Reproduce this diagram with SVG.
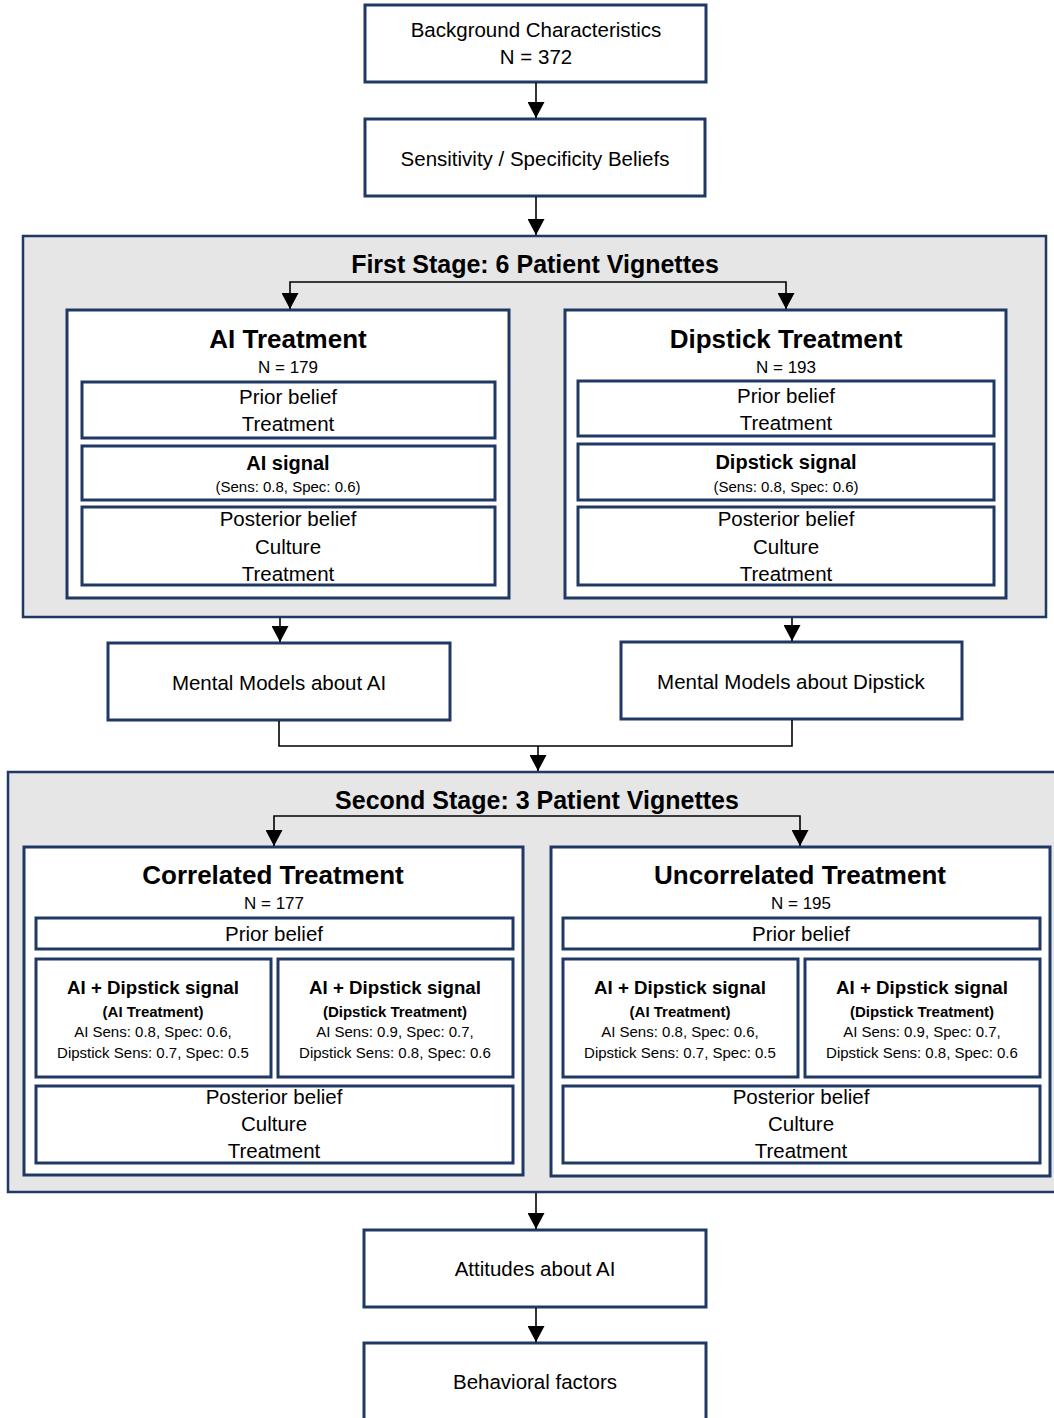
<svg xmlns="http://www.w3.org/2000/svg" width="1054" height="1418" viewBox="0 0 1054 1418">
<defs>
<marker id="ah" markerUnits="userSpaceOnUse" markerWidth="16" markerHeight="17" viewBox="0 0 16 17" refX="16" refY="8.5" orient="auto">
<path d="M0,0 L16,8.5 L0,17 Z" fill="#000"/>
</marker>
<style>
.box{fill:#fff;stroke:#1F3864;stroke-width:3}
.panel{fill:#E6E6E6;stroke:#1F3864;stroke-width:2.5}
.cn{fill:none;stroke:#000;stroke-width:1.6}
.ar{marker-end:url(#ah)}
text{font-family:"Liberation Sans",Arial,sans-serif;fill:#000;text-anchor:middle}
.t{font-size:20.5px}
.h{font-size:25px;font-weight:bold}
.h2{font-size:26px;font-weight:bold}
.n{font-size:17px}
.s{font-size:15px}
.b{font-size:20px;font-weight:bold}
.sb{font-size:18.7px;font-weight:bold}
.st{font-size:15px;font-weight:bold}
</style>
</defs>

<g id="background">
<rect class="box" x="365" y="5" width="341" height="77"/>
<text class="t" x="536" y="37">Background Characteristics</text>
<text class="t" x="536" y="64">N = 372</text>
</g>
<g id="sensitivity">
<rect class="box" x="365" y="119" width="340" height="77"/>
<text class="t" x="535" y="166">Sensitivity / Specificity Beliefs</text>
</g>

<g id="first-stage">
<rect class="panel" x="23" y="236" width="1023" height="381"/>
<text class="h" x="535" y="273">First Stage: 6 Patient Vignettes</text>
</g>

<g id="ai-treatment">
<rect class="box" x="67" y="310" width="442" height="288"/>
<text class="h2" x="288" y="348">AI Treatment</text>
<text class="n" x="288" y="373">N = 179</text>
<rect class="box" x="82" y="382" width="413" height="56"/>
<text class="t" x="288" y="404">Prior belief</text>
<text class="t" x="288" y="431">Treatment</text>
<rect class="box" x="82" y="446" width="413" height="54"/>
<text class="b" x="288" y="470">AI signal</text>
<text class="s" x="288" y="492">(Sens: 0.8, Spec: 0.6)</text>
<rect class="box" x="82" y="507" width="413" height="78"/>
<text class="t" x="288" y="526">Posterior belief</text>
<text class="t" x="288" y="554">Culture</text>
<text class="t" x="288" y="581">Treatment</text>
</g>

<g id="dipstick-treatment">
<rect class="box" x="565" y="310" width="441" height="288"/>
<text class="h2" x="786" y="348">Dipstick Treatment</text>
<text class="n" x="786" y="373">N = 193</text>
<rect class="box" x="578" y="381" width="416" height="55"/>
<text class="t" x="786" y="403">Prior belief</text>
<text class="t" x="786" y="430">Treatment</text>
<rect class="box" x="578" y="444" width="416" height="56"/>
<text class="b" x="786" y="469">Dipstick signal</text>
<text class="s" x="786" y="492">(Sens: 0.8, Spec: 0.6)</text>
<rect class="box" x="578" y="507" width="416" height="78"/>
<text class="t" x="786" y="526">Posterior belief</text>
<text class="t" x="786" y="554">Culture</text>
<text class="t" x="786" y="581">Treatment</text>
</g>

<g id="mental-ai">
<rect class="box" x="108" y="643" width="342" height="77"/>
<text class="t" x="279" y="690">Mental Models about AI</text>
</g>
<g id="mental-dipstick">
<rect class="box" x="621" y="642" width="341" height="77"/>
<text class="t" x="791" y="689">Mental Models about Dipstick</text>
</g>

<g id="second-stage">
<rect class="panel" x="8" y="772" width="1060" height="420"/>
<text class="h" x="537" y="809">Second Stage: 3 Patient Vignettes</text>
</g>

<g id="correlated-treatment">
<rect class="box" x="24" y="847" width="499" height="328"/>
<text class="h2" x="273" y="884">Correlated Treatment</text>
<text class="n" x="274" y="909">N = 177</text>
<rect class="box" x="36" y="918" width="477" height="31"/>
<text class="t" x="274" y="941">Prior belief</text>
<rect class="box" x="36" y="959" width="235" height="118"/>
<text class="sb" x="153" y="994">AI + Dipstick signal</text>
<text class="st" x="153" y="1017">(AI Treatment)</text>
<text class="s" x="153" y="1037">AI Sens: 0.8, Spec: 0.6,</text>
<text class="s" x="153" y="1058">Dipstick Sens: 0.7, Spec: 0.5</text>
<rect class="box" x="278" y="959" width="235" height="118"/>
<text class="sb" x="395" y="994">AI + Dipstick signal</text>
<text class="st" x="395" y="1017">(Dipstick Treatment)</text>
<text class="s" x="395" y="1037">AI Sens: 0.9, Spec: 0.7,</text>
<text class="s" x="395" y="1058">Dipstick Sens: 0.8, Spec: 0.6</text>
<rect class="box" x="36" y="1086" width="477" height="77"/>
<text class="t" x="274" y="1104">Posterior belief</text>
<text class="t" x="274" y="1131">Culture</text>
<text class="t" x="274" y="1158">Treatment</text>
</g>

<g id="uncorrelated-treatment">
<rect class="box" x="551" y="847" width="499" height="329"/>
<text class="h2" x="800" y="884">Uncorrelated Treatment</text>
<text class="n" x="801" y="909">N = 195</text>
<rect class="box" x="563" y="918" width="477" height="31"/>
<text class="t" x="801" y="941">Prior belief</text>
<rect class="box" x="563" y="959" width="235" height="118"/>
<text class="sb" x="680" y="994">AI + Dipstick signal</text>
<text class="st" x="680" y="1017">(AI Treatment)</text>
<text class="s" x="680" y="1037">AI Sens: 0.8, Spec: 0.6,</text>
<text class="s" x="680" y="1058">Dipstick Sens: 0.7, Spec: 0.5</text>
<rect class="box" x="805" y="959" width="235" height="118"/>
<text class="sb" x="922" y="994">AI + Dipstick signal</text>
<text class="st" x="922" y="1017">(Dipstick Treatment)</text>
<text class="s" x="922" y="1037">AI Sens: 0.9, Spec: 0.7,</text>
<text class="s" x="922" y="1058">Dipstick Sens: 0.8, Spec: 0.6</text>
<rect class="box" x="563" y="1086" width="477" height="77"/>
<text class="t" x="801" y="1104">Posterior belief</text>
<text class="t" x="801" y="1131">Culture</text>
<text class="t" x="801" y="1158">Treatment</text>
</g>

<g id="attitudes">
<rect class="box" x="364" y="1230" width="342" height="77"/>
<text class="t" x="535" y="1276">Attitudes about AI</text>
</g>
<g id="behavioral">
<rect class="box" x="364" y="1343" width="342" height="100"/>
<text class="t" x="535" y="1389">Behavioral factors</text>
</g>

<g id="connectors">
<line class="cn ar" x1="536" y1="83" x2="536" y2="118"/>
<line class="cn ar" x1="536" y1="197" x2="536" y2="235"/>
<polyline class="cn ar" points="536,282 290,282 290,309"/>
<polyline class="cn ar" points="536,282 786,282 786,309"/>
<line class="cn ar" x1="280" y1="618" x2="280" y2="642"/>
<line class="cn ar" x1="792" y1="618" x2="792" y2="641"/>
<polyline class="cn" points="279,721 279,746 538,746"/>
<polyline class="cn" points="792,720 792,746 538,746"/>
<line class="cn ar" x1="538" y1="746" x2="538" y2="771"/>
<polyline class="cn ar" points="537,816 274,816 274,846"/>
<polyline class="cn ar" points="537,816 800,816 800,846"/>
<line class="cn ar" x1="536" y1="1193" x2="536" y2="1229"/>
<line class="cn ar" x1="536" y1="1308" x2="536" y2="1342"/>
</g>
</svg>
